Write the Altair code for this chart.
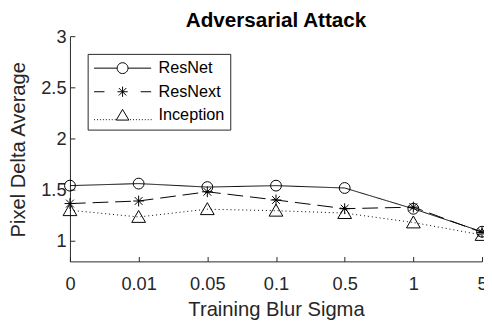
import math
import altair as alt
import pandas as pd

# ---- data ----
title_text = "Adversarial Attack"
sigma_labels = ["0", "0.01", "0.05", "0.1", "0.5", "1", "5"]
series_names = ["ResNet", "ResNext", "Inception"]
resnet = [1.54, 1.56, 1.526, 1.54, 1.517, 1.314, 1.09]
resnext = [1.365, 1.39, 1.48, 1.40, 1.315, 1.33, 1.083]
inception = [1.30, 1.234, 1.31, 1.295, 1.272, 1.18, 1.058]
y_ticks = [1, 1.5, 2, 2.5, 3]

rows = []
for name, vals in zip(series_names, [resnet, resnext, inception]):
    for s, v in zip(sigma_labels, vals):
        rows.append({"sigma": s, "series": name, "value": v})
df = pd.DataFrame(rows)

FONT = "Liberation Sans"
AXC = "#262626"
W, H = 419, 229


def circle_path(r, n=24):
    pts = []
    for i in range(n):
        a = 2 * math.pi * i / n
        pts.append(f"{r * math.cos(a):.3f},{r * math.sin(a):.3f}")
    return "M" + "L".join(pts) + "Z"


# data markers (size 121 -> 1 unit = 5.5 px)
star_mark = "M-1,0L1,0M0,-1L0,1M-0.72,-0.72L0.72,0.72M-0.72,0.72L0.72,-0.72"
tri_mark = "M0,-1.2L-1.27,1.0L1.27,1.0Z"

# legend symbols (size 256 -> 1 unit = 8 px)
L = 3.625
leg_resnet = f"M{-L},0L-0.69,0M0.69,0L{L},0" + circle_path(0.69)
leg_resnext = (f"M{-L},0L-2.3,0M2.3,0L{L},0"
               "M-0.65,0L0.65,0M0,-0.65L0,0.65M-0.47,-0.47L0.47,0.47M-0.47,0.47L0.47,-0.47")
dots = ""
x = -L
while x < -0.95:
    dots += f"M{x:.3f},0.55L{x + 0.12:.3f},0.55"
    x += 0.375
x = 0.95
while x < L:
    dots += f"M{x:.3f},0.55L{x + 0.12:.3f},0.55"
    x += 0.375
leg_incep = dots + "M0,-0.75L-0.8,0.6L0.8,0.6Z"

xscale = alt.Scale(type="point", padding=0, domain=sigma_labels)
yscale = alt.Scale(domain=[0.8, 3], nice=False, zero=False)

lines = alt.Chart(df).mark_line(color="black", strokeWidth=1).encode(
    x=alt.X("sigma:O", scale=xscale, sort=sigma_labels,
            axis=alt.Axis(orient="bottom", title="Training Blur Sigma", labelAngle=0,
                          ticks=False, tickSize=0, grid=False,
                          domainColor=AXC, domainWidth=1,
                          labelColor=AXC, labelFont=FONT, labelFontSize=18.5,
                          labelBaseline="alphabetic", labelPadding=29,
                          titleFont=FONT, titleFontSize=20.5, titleFontWeight="normal",
                          titleColor=AXC, titleY=55, titleBaseline="alphabetic")),
    y=alt.Y("value:Q", scale=yscale,
            axis=alt.Axis(orient="left", values=y_ticks, format="~g",
                          title="Pixel Delta Average", ticks=False, tickSize=0, grid=False,
                          domainColor=AXC, domainWidth=1,
                          labelColor=AXC, labelFont=FONT, labelFontSize=18.5, labelPadding=4,
                          titleFont=FONT, titleFontSize=20.5, titleFontWeight="normal",
                          titleColor=AXC, titleAngle=270, titleX=-46, titleY=115,
                          titleAlign="center", titleBaseline="alphabetic")),
    strokeDash=alt.StrokeDash("series:N",
                              scale=alt.Scale(domain=series_names, range=[[1, 0], [16, 7], [1, 3]]),
                              legend=None),
    detail="series:N",
)

points = alt.Chart(df).mark_point(filled=False, color="black", strokeWidth=1, size=121, opacity=1).encode(
    x=alt.X("sigma:O", scale=xscale, sort=sigma_labels,
            axis=alt.Axis(orient="top", offset=-H, labels=False, domain=False, title=None,
                          ticks=True, tickSize=5, tickColor=AXC, grid=False)),
    y=alt.Y("value:Q", scale=yscale,
            axis=alt.Axis(orient="right", offset=-W, values=y_ticks, labels=False, domain=False,
                          title=None, ticks=True, tickSize=5, tickColor=AXC, grid=False)),
    shape=alt.Shape("series:N",
                    scale=alt.Scale(domain=series_names, range=["circle", star_mark, tri_mark]),
                    legend=None),
)

legend_layer = alt.Chart(df).transform_filter("false").mark_point(
    filled=False, color="black", strokeWidth=1, size=256, opacity=1
).encode(
    shape=alt.Shape("series:N",
                    scale=alt.Scale(domain=series_names, range=[leg_resnet, leg_resnext, leg_incep]),
                    legend=alt.Legend(orient="none", legendX=18, legendY=18, title=None,
                                      labelFont=FONT, labelFontSize=16.5, labelColor="black",
                                      strokeColor=AXC, fillColor="white", padding=6,
                                      symbolSize=256, symbolStrokeWidth=1,
                                      symbolStrokeColor="black", symbolOffset=21,
                                      labelOffset=28, rowPadding=7)),
)

title_layer = alt.Chart(pd.DataFrame({"t": [title_text]})).mark_text(
    font=FONT, fontSize=21, fontWeight="bold", color="black",
    align="center", baseline="alphabetic"
).encode(
    text="t:N",
    x=alt.value(W / 2),
    y=alt.value(-9),
)

chart = alt.layer(lines, points, legend_layer, title_layer).resolve_scale(
    shape="independent"
).resolve_axis(x="independent", y="independent").properties(
    width=W, height=H,
    autosize=alt.AutoSizeParams(type="none"),
    padding={"left": 63, "top": 26, "right": 2, "bottom": 61},
).configure_view(strokeWidth=0)

chart.save("out.html", embed_options={"renderer": "svg", "actions": False})
